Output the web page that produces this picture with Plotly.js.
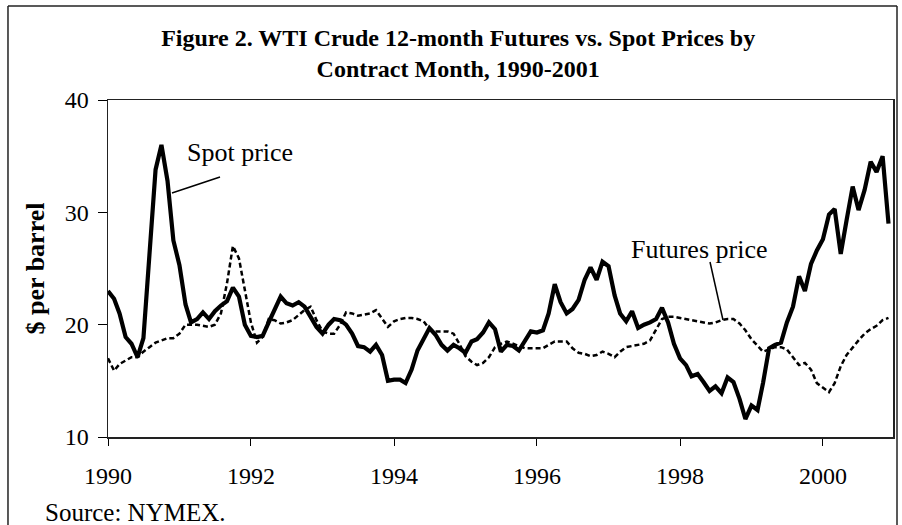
<!DOCTYPE html>
<html>
<head>
<meta charset="utf-8">
<script src="https://cdn.plot.ly/plotly-3.0.1.min.js"></script>
<style>html,body{margin:0;padding:0;background:#fff;}#chart{width:902px;height:525px;}</style>
</head>
<body>
<div id="chart"></div>
<script>
// Monthly data, Jan 1990 .. Dec 2000
const startYear = 1990;

const spotPrice = [
  23.0, 22.3, 21.0, 18.9, 18.3, 17.1, 18.8, 26.3, 33.8, 36.0, 32.8, 27.5,
  25.3, 21.8, 20.2, 20.5, 21.1, 20.5, 21.2, 21.7, 22.1, 23.3, 22.5, 20.0,
  19.0, 18.9, 19.0, 20.2, 21.4, 22.5, 21.9, 21.7, 22.0, 21.6, 20.7, 19.8,
  19.2, 20.0, 20.5, 20.4, 20.0, 19.2, 18.1, 18.0, 17.6, 18.2, 17.3, 15.0,
  15.1, 15.1, 14.8, 16.0, 17.7, 18.8, 19.7, 19.1, 18.2, 17.7, 18.2, 17.9,
  17.5, 18.5, 18.7, 19.3, 20.2, 19.6, 17.6, 18.2, 18.1, 17.7, 18.5, 19.4,
  19.3, 19.5, 21.0, 23.6, 22.0, 21.0, 21.4, 22.2, 24.0, 25.1, 24.0, 25.6,
  25.2, 22.6, 21.0, 20.3, 21.2, 19.7, 20.0, 20.2, 20.5, 21.5, 20.2, 18.3,
  17.0, 16.4, 15.4, 15.6, 14.9, 14.1, 14.5, 13.9, 15.3, 14.9, 13.4, 11.6,
  12.8, 12.4, 14.8, 17.9, 18.2, 18.4, 20.2, 21.6, 24.3, 23.0, 25.4, 26.6,
  27.6, 29.8, 30.3, 26.3, 29.3, 32.3, 30.2, 32.0, 34.5, 33.6, 35.0, 29.0
];

const futuresPrice = [
  17.0, 15.9, 16.5, 16.8, 17.1, 17.1, 17.6, 18.0, 18.4, 18.6, 18.8, 18.8,
  19.2, 20.0, 20.0, 20.0, 19.9, 19.8, 20.0, 21.0, 23.7, 27.0, 25.9, 23.0,
  20.2, 18.4, 18.9, 20.5, 20.4, 20.1, 20.2, 20.4, 20.9, 21.3, 21.6, 20.4,
  19.4, 19.2, 19.2, 20.0, 21.1, 21.0, 20.8, 20.9, 21.0, 21.3, 20.5, 19.8,
  20.3, 20.5, 20.6, 20.6, 20.5, 20.3, 19.6, 19.4, 19.4, 19.4, 19.2, 18.3,
  17.2, 16.7, 16.4, 16.6, 17.1, 18.0, 18.3, 18.5, 18.3, 18.1, 17.9, 17.9,
  17.9, 17.9, 18.2, 18.5, 18.5, 18.5, 17.9, 17.5, 17.4, 17.2, 17.3, 17.6,
  17.4, 17.1, 17.6, 18.0, 18.1, 18.2, 18.3, 18.6, 19.6, 20.5, 20.7, 20.7,
  20.6, 20.5, 20.4, 20.3, 20.2, 20.1, 20.2, 20.4, 20.5, 20.5, 20.1, 19.5,
  18.7, 18.1, 17.6, 17.8, 18.0, 18.0, 17.8, 17.1, 16.4, 16.6, 16.0, 14.8,
  14.4, 14.0, 14.8, 16.3, 17.3, 18.0, 18.6, 19.2, 19.6, 19.9, 20.4, 20.6
];

// month dates (categories along the time axis)
const months = spotPrice.map((_, i) => {
  const y = startYear + Math.floor(i / 12);
  const m = (i % 12) + 1;
  return y + "-" + (m < 10 ? "0" + m : m) + "-01";
});

const serif = "Liberation Serif, Times New Roman, serif";

const traces = [
  {
    x: months, y: futuresPrice, type: "scatter", mode: "lines",
    name: "Futures price",
    line: { color: "#000", width: 2.5, dash: "5px,3px" }
  },
  {
    x: months, y: spotPrice, type: "scatter", mode: "lines",
    name: "Spot price",
    line: { color: "#000", width: 4.2 }
  }
];

const frame = { color: "#222", width: 1.5 };

const layout = {
  width: 902, height: 525,
  margin: { l: 108, r: 9, t: 100, b: 88 },
  paper_bgcolor: "#fff", plot_bgcolor: "#fff",
  showlegend: false,
  title: {
    text: "<b>Figure 2. WTI Crude 12-month Futures vs. Spot Prices by<br>Contract Month, 1990-2001</b>",
    font: { family: serif, size: 24, color: "#000" },
    xref: "container", x: 0.508, xanchor: "center",
    yref: "container", y: 0.912, yanchor: "top"
  },
  xaxis: {
    type: "date",
    range: ["1990-01-01", "2000-12-24"],
    tick0: "1990-01-01", dtick: "M24", tickformat: "%Y",
    ticks: "outside", ticklen: 7, tickcolor: "#000", tickwidth: 1,
    showgrid: false, zeroline: false,
    showline: true, linecolor: "#222", linewidth: 1.5, mirror: true,
    tickfont: { family: serif, size: 24, color: "#000" },
    ticklabelstandoff: 10
  },
  yaxis: {
    range: [10, 40],
    tickvals: [10, 20, 30, 40],
    ticks: "outside", ticklen: 9, tickcolor: "#000", tickwidth: 1,
    showgrid: false, zeroline: false,
    showline: true, linecolor: "#222", linewidth: 1.5, mirror: true,
    tickfont: { family: serif, size: 24, color: "#000" },
    ticklabelstandoff: 4,
    title: {
      text: "<b>$ per barrel</b>",
      font: { family: serif, size: 26, color: "#000" },
      standoff: 12
    }
  },
  shapes: [
    // outer chart frame
    { type: "line", xref: "paper", yref: "paper", x0: -0.1274, x1: 1.0051, y0: 1.279, y1: 1.279, line: frame },
    { type: "line", xref: "paper", yref: "paper", x0: -0.1274, x1: -0.1274, y0: 1.279, y1: -0.3, line: frame },
    { type: "line", xref: "paper", yref: "paper", x0: 1.0051, x1: 1.0051, y0: 1.279, y1: -0.3, line: frame },
    // label leader lines
    { type: "line", xref: "paper", yref: "paper", x0: 0.1427, y0: 0.7715, x1: 0.0815, y1: 0.724, line: { color: "#000", width: 1.5 } },
    { type: "line", xref: "paper", yref: "paper", x0: 0.7669, y0: 0.5193, x1: 0.7834, y1: 0.3472, line: { color: "#000", width: 1.5 } }
  ],
  annotations: [
    { text: "Spot price", xref: "paper", yref: "paper", x: 0.168, y: 0.843, showarrow: false,
      xanchor: "center", yanchor: "middle", font: { family: serif, size: 26, color: "#000" } },
    { text: "Futures price", xref: "paper", yref: "paper", x: 0.753, y: 0.555, showarrow: false,
      xanchor: "center", yanchor: "middle", font: { family: serif, size: 26, color: "#000" } },
    { text: "Source: NYMEX.", xref: "paper", yref: "paper", x: -0.0828, y: -0.2255, showarrow: false,
      xanchor: "left", yanchor: "middle", font: { family: serif, size: 25, color: "#000" } }
  ]
};

Plotly.newPlot("chart", traces, layout, { displayModeBar: false, staticPlot: true });
</script>
</body>
</html>
